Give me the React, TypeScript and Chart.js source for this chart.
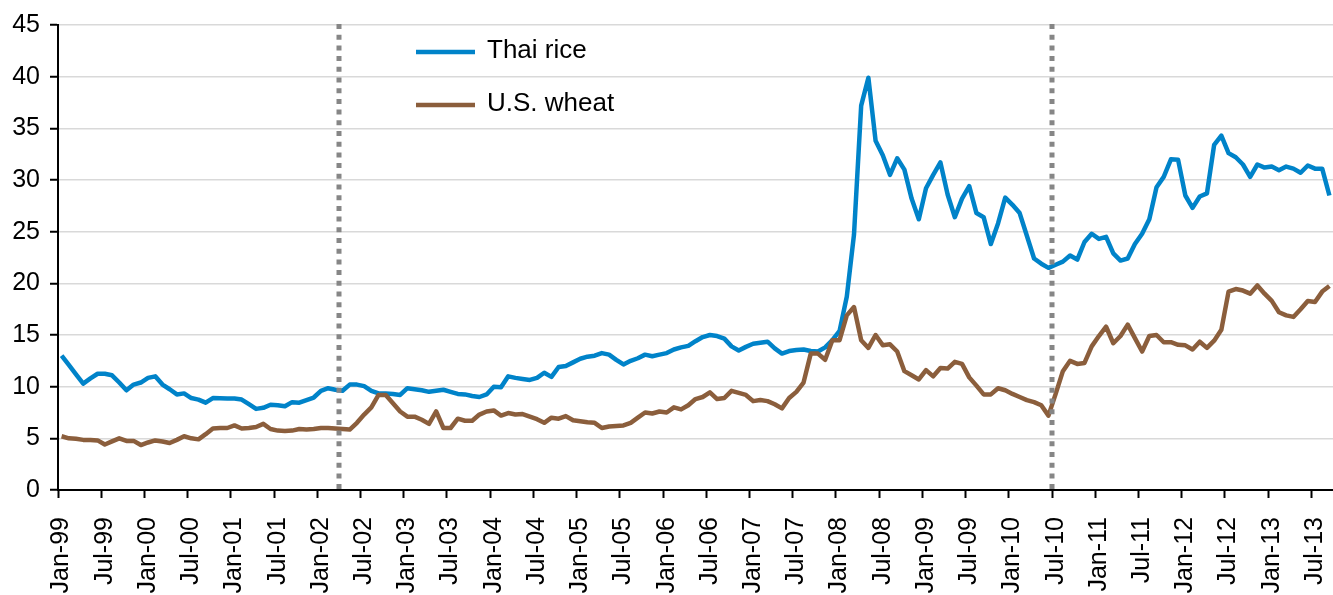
import React, { useEffect, useRef } from "react";
import { Chart, registerables } from "chart.js";

Chart.register(...registerables);

const MONTHS = ["Jan", "Feb", "Mar", "Apr", "May", "Jun", "Jul", "Aug", "Sep", "Oct", "Nov", "Dec"];
const YEARS = ["99", "00", "01", "02", "03", "04", "05", "06", "07", "08", "09", "10", "11", "12", "13"];
const LAST_MONTH = "Sep-13";

const ALL_MONTHS = YEARS.flatMap((y) => MONTHS.map((m) => `${m}-${y}`));
const categories = ALL_MONTHS.slice(0, ALL_MONTHS.indexOf(LAST_MONTH) + 1);

const TICK_LABELS = [
  "Jan-99", "Jul-99", "Jan-00", "Jul-00", "Jan-01", "Jul-01", "Jan-02", "Jul-02",
  "Jan-03", "Jul-03", "Jan-04", "Jul-04", "Jan-05", "Jul-05", "Jan-06", "Jul-06",
  "Jan-07", "Jul-07", "Jan-08", "Jul-08", "Jan-09", "Jul-09", "Jan-10", "Jul-10",
  "Jan-11", "Jul-11", "Jan-12", "Jul-12", "Jan-13", "Jul-13",
];

// dotted dividers drawn at the start of these months
const DIVIDERS = ["Apr-02", "Jul-10"];

const thaiRice = [
  13.0, 12.1, 11.2, 10.3, 10.8, 11.25, 11.25, 11.1, 10.4, 9.65,
  10.2, 10.4, 10.85, 11.0, 10.2, 9.75, 9.25, 9.35, 8.9, 8.75,
  8.45, 8.9, 8.87, 8.85, 8.85, 8.75, 8.3, 7.85, 7.95, 8.25,
  8.2, 8.1, 8.5, 8.45, 8.7, 8.95, 9.6, 9.85, 9.7, 9.6,
  10.2, 10.2, 10.05, 9.6, 9.35, 9.35, 9.3, 9.2, 9.85, 9.75,
  9.65, 9.5, 9.6, 9.7, 9.5, 9.3, 9.25, 9.1, 9.0, 9.25,
  10.0, 9.95, 11.0, 10.85, 10.75, 10.65, 10.85, 11.35, 10.95, 11.9,
  12.0, 12.35, 12.7, 12.9, 13.0, 13.25, 13.1, 12.6, 12.15, 12.5,
  12.75, 13.1, 12.95, 13.1, 13.25, 13.6, 13.8, 13.95, 14.4, 14.8,
  15.0, 14.9, 14.65, 13.9, 13.5, 13.85, 14.15, 14.25, 14.35, 13.7,
  13.2, 13.45, 13.55, 13.6, 13.45, 13.4, 13.8, 14.5, 15.4, 18.7,
  24.7, 37.2, 39.9, 33.8, 32.4, 30.5, 32.1, 31.0, 28.2, 26.2,
  29.2, 30.5, 31.7, 28.6, 26.4, 28.2, 29.4, 26.8, 26.4, 23.8,
  25.8, 28.3, 27.6, 26.8, 24.6, 22.4, 21.9, 21.5, 21.8, 22.1,
  22.7, 22.3, 24.0, 24.8, 24.3, 24.5, 22.9, 22.2, 22.4, 23.8,
  24.8, 26.2, 29.3, 30.3, 32.0, 31.95, 28.5, 27.3, 28.4, 28.7,
  33.4, 34.3, 32.6, 32.2, 31.5, 30.3, 31.5, 31.2, 31.3, 30.95,
  31.3, 31.1, 30.7, 31.4, 31.1, 31.1, 28.5,
];

const usWheat = [
  5.2, 5.0, 4.95, 4.85, 4.85, 4.8, 4.4, 4.7, 5.0, 4.75,
  4.75, 4.35, 4.6, 4.8, 4.7, 4.55, 4.85, 5.2, 5.0, 4.9,
  5.4, 5.95, 6.0, 6.0, 6.25, 5.95, 6.0, 6.1, 6.4, 5.9,
  5.75, 5.7, 5.75, 5.9, 5.85, 5.9, 6.0, 6.0, 5.95, 5.9,
  5.85, 6.5, 7.3, 8.0, 9.2, 9.2, 8.4, 7.6, 7.1, 7.1,
  6.8, 6.4, 7.6, 6.0, 6.0, 6.9, 6.7, 6.7, 7.3, 7.6,
  7.7, 7.2, 7.45, 7.3, 7.35, 7.1, 6.85, 6.5, 7.0, 6.9,
  7.15, 6.75, 6.65, 6.55, 6.5, 6.0, 6.15, 6.2, 6.25, 6.5,
  7.0, 7.5, 7.4, 7.6, 7.5, 8.0, 7.8, 8.2, 8.8, 9.0,
  9.45, 8.8, 8.9, 9.6, 9.4, 9.2, 8.6, 8.7, 8.6, 8.3,
  7.9, 8.9, 9.5, 10.4, 13.2, 13.2, 12.6, 14.5, 14.5, 16.9,
  17.7, 14.5, 13.75, 15.0, 14.0, 14.1, 13.4, 11.5, 11.1, 10.7,
  11.6, 11.0, 11.8, 11.75, 12.4, 12.2, 10.9, 10.1, 9.25, 9.25,
  9.85, 9.65, 9.3, 9.0, 8.7, 8.5, 8.2, 7.2, 9.3, 11.5,
  12.5, 12.2, 12.3, 13.9, 14.9, 15.8, 14.2, 14.9, 16.0, 14.7,
  13.4, 14.9, 15.0, 14.3, 14.3, 14.05, 14.0, 13.6, 14.35, 13.75,
  14.45, 15.5, 19.2, 19.45, 19.3, 19.0, 19.8, 19.0, 18.3, 17.2,
  16.9, 16.75, 17.5, 18.3, 18.2, 19.2, 19.75,
];

const Y_MIN = 0;
const Y_MAX = 45;
const Y_STEP = 5;

const BLUE = "#0083C9";
const BROWN = "#8B5E3C";
const FONT = "'Liberation Sans', Arial, Helvetica, sans-serif";

const tickSet = new Set(TICK_LABELS);

const dividerPlugin = {
  id: "dividers",
  afterDatasetsDraw(chart: any) {
    const { ctx, chartArea, scales } = chart;
    const xs = scales.x;
    ctx.save();
    ctx.strokeStyle = "#868686";
    ctx.lineWidth = 5;
    ctx.lineCap = "butt";
    ctx.setLineDash([5, 5.7]);
    DIVIDERS.forEach((label) => {
      const idx = categories.indexOf(label);
      const x = Math.round(xs.getPixelForValue(idx - 0.5));
      ctx.beginPath();
      ctx.moveTo(x, chartArea.top - 1);
      ctx.lineTo(x, chartArea.bottom);
      ctx.stroke();
    });
    ctx.restore();
  },
};

const legendPlugin = {
  id: "customLegend",
  afterDraw(chart: any) {
    const { ctx, chartArea } = chart;
    const left = chartArea.left + 358;
    const rows = [chart.data.datasets[0], chart.data.datasets[1]];
    ctx.save();
    rows.forEach((ds: any, i: number) => {
      const y = chartArea.top + 27 + i * 53;
      ctx.strokeStyle = ds.borderColor;
      ctx.lineWidth = 4.5;
      ctx.setLineDash([]);
      ctx.beginPath();
      ctx.moveTo(left, y);
      ctx.lineTo(left + 59, y);
      ctx.stroke();
      ctx.fillStyle = "#000";
      ctx.font = `26px ${FONT}`;
      ctx.textBaseline = "middle";
      ctx.textAlign = "left";
      ctx.fillText(ds.label, left + 71, y - 1);
    });
    ctx.restore();
  },
};

export default function App() {
  const canvasRef = useRef<HTMLCanvasElement | null>(null);

  useEffect(() => {
    if (!canvasRef.current) return;
    const chart = new Chart(canvasRef.current, {
      type: "line",
      data: {
        labels: categories,
        datasets: [
          {
            label: "Thai rice",
            data: thaiRice,
            borderColor: BLUE,
            backgroundColor: BLUE,
            borderWidth: 4.5,
            pointRadius: 0,
            tension: 0,
            borderJoinStyle: "round",
            borderCapStyle: "butt",
            order: 1,
          },
          {
            label: "U.S. wheat",
            data: usWheat,
            borderColor: BROWN,
            backgroundColor: BROWN,
            borderWidth: 4.5,
            pointRadius: 0,
            tension: 0,
            borderJoinStyle: "round",
            borderCapStyle: "butt",
            order: 0,
          },
        ],
      },
      options: {
        animation: false,
        responsive: false,
        maintainAspectRatio: false,
        devicePixelRatio: 1,
        layout: { padding: { top: 22, left: 0, right: 0, bottom: 0 } },
        plugins: {
          legend: { display: false },
          tooltip: { enabled: false },
        },
        scales: {
          x: {
            type: "category",
            offset: true,
            border: { display: true, color: "#000", width: 2 },
            grid: {
              display: true,
              offset: true,
              drawOnChartArea: false,
              drawTicks: true,
              tickLength: 8,
              tickWidth: 2,
              tickColor: (c: any) =>
                c.index < categories.length && tickSet.has(categories[c.index]) ? "#000" : "rgba(0,0,0,0)",
            },
            ticks: {
              autoSkip: false,
              minRotation: 90,
              maxRotation: 90,
              padding: 19,
              color: "#000",
              font: { family: FONT, size: 25 },
              callback: (_v: any, i: number) => (tickSet.has(categories[i]) ? categories[i] : ""),
            },
            afterFit: (s: any) => {
              s.height = 105;
              s.paddingLeft = 0;
              s.paddingRight = 0;
            },
          },
          y: {
            min: Y_MIN,
            max: Y_MAX,
            border: { display: true, color: "#000", width: 2 },
            grid: {
              color: "#d9d9d9",
              lineWidth: 1.5,
              drawTicks: true,
              tickLength: 8,
              tickWidth: 2,
              tickColor: "#000",
            },
            ticks: {
              stepSize: Y_STEP,
              padding: 10,
              color: "#000",
              font: { family: FONT, size: 25 },
            },
            afterFit: (s: any) => {
              s.width = 58;
            },
          },
        },
      },
      plugins: [dividerPlugin, legendPlugin],
    });
    return () => chart.destroy();
  }, []);

  return (
    <div style={{ position: "fixed", left: 0, top: 0, width: 1333, height: 595, background: "#fff" }}>
      <canvas ref={canvasRef} width={1333} height={595} style={{ width: 1333, height: 595, display: "block" }} />
    </div>
  );
}
